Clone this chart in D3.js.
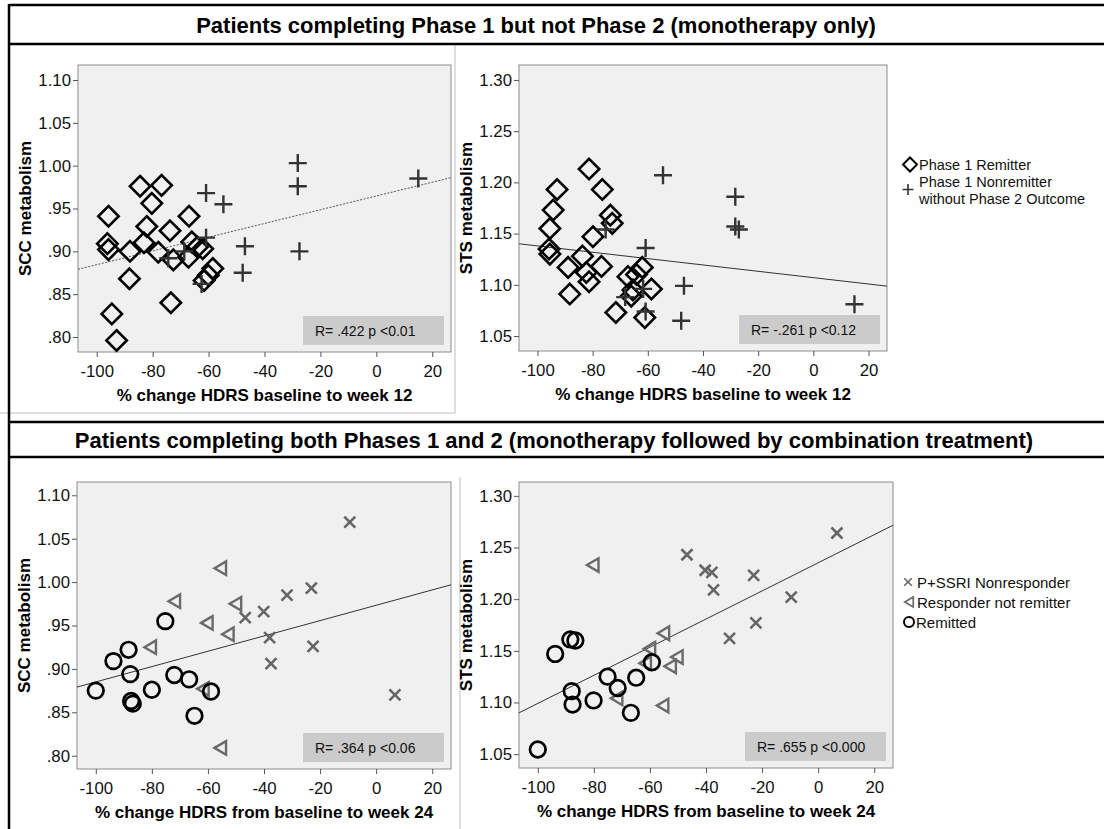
<!DOCTYPE html>
<html>
<head>
<meta charset="utf-8">
<script src="https://cdn.jsdelivr.net/npm/d3@7"></script>
<style>
  body { margin: 0; background: #fff; }
  svg { display: block; }
  text { font-family: "Liberation Sans", Arial, sans-serif; }
</style>
</head>
<body>
<svg id="chart" width="1104" height="829"></svg>
<script>
// ---------- Tick values and labels ----------
const xTicks = [-100, -80, -60, -40, -20, 0, 20];
const xTickLabels = ["-100", "-80", "-60", "-40", "-20", "0", "20"];
const sccTicks = [0.80, 0.85, 0.90, 0.95, 1.00, 1.05, 1.10];
const sccTickLabels = [".80", ".85", ".90", ".95", "1.00", "1.05", "1.10"];
const stsTicks = [1.05, 1.10, 1.15, 1.20, 1.25, 1.30];
const stsTickLabels = ["1.05", "1.10", "1.15", "1.20", "1.25", "1.30"];

// ---------- Phase 1 only: SCC ----------
const p1SccRemitX = [-95.8, -84.5, -76.8, -80.3, -82.1, -73.8, -67.0, -96.2, -95.8, -88.1, -83.1, -78.0, -72.6, -67.2, -66.0, -62.1, -61.6, -58.5, -60.1, -88.3, -73.5, -94.6, -92.9, -64.0];
const p1SccRemitY = [0.941, 0.976, 0.977, 0.956, 0.929, 0.924, 0.941, 0.909, 0.902, 0.900, 0.910, 0.899, 0.890, 0.893, 0.911, 0.903, 0.866, 0.880, 0.872, 0.868, 0.840, 0.827, 0.796, 0.905];
const p1SccNonX = [-28.1, -28.1, -27.5, 15.0, -60.9, -54.7, -47.0, -47.8, -60.9, -74.4, -68.7, -62.5];
const p1SccNonY = [1.003, 0.976, 0.900, 0.985, 0.968, 0.955, 0.906, 0.875, 0.916, 0.892, 0.900, 0.862];

// ---------- Phase 1 only: STS ----------
const p1StsRemitX = [-81.3, -92.9, -76.5, -94.3, -95.5, -73.6, -72.9, -79.9, -95.8, -95.5, -83.7, -88.9, -76.8, -82.3, -81.3, -88.3, -67.2, -62.0, -58.7, -65.4, -66.0, -71.6, -61.1, -64.1];
const p1StsRemitY = [1.213, 1.193, 1.193, 1.173, 1.155, 1.168, 1.160, 1.147, 1.135, 1.130, 1.128, 1.117, 1.118, 1.112, 1.103, 1.091, 1.108, 1.117, 1.096, 1.095, 1.089, 1.073, 1.068, 1.110];
const p1StsNonX = [-54.5, -28.3, -28.3, -27.0, 14.9, -60.8, -46.9, -47.9, -75.3, -68.2, -61.7, -60.8];
const p1StsNonY = [1.207, 1.186, 1.157, 1.154, 1.081, 1.136, 1.099, 1.065, 1.154, 1.088, 1.096, 1.074];

// ---------- Phases 1 and 2: SCC ----------
const p2SccRemitX = [-100.0, -93.7, -88.3, -87.7, -87.4, -86.8, -80.0, -75.2, -72.0, -66.7, -58.9, -64.8];
const p2SccRemitY = [0.875, 0.909, 0.922, 0.894, 0.863, 0.860, 0.876, 0.955, 0.893, 0.888, 0.874, 0.846];
const p2SccRespX = [-55.6, -72.0, -50.2, -60.4, -52.9, -80.6, -61.8, -55.6];
const p2SccRespY = [1.016, 0.978, 0.975, 0.953, 0.940, 0.925, 0.877, 0.809];
const p2SccNonX = [-9.4, -23.1, -31.8, -40.1, -46.7, -38.0, -37.5, -22.5, 6.7];
const p2SccNonY = [1.069, 0.993, 0.985, 0.966, 0.959, 0.936, 0.906, 0.926, 0.870];

// ---------- Phases 1 and 2: STS ----------
const p2StsRemitX = [-100.0, -93.8, -88.4, -86.6, -87.9, -87.6, -80.1, -75.1, -71.5, -64.9, -59.3, -66.8];
const p2StsRemitY = [1.0545, 1.147, 1.161, 1.160, 1.111, 1.098, 1.102, 1.125, 1.114, 1.124, 1.139, 1.090];
const p2StsRespX = [-80.4, -55.2, -60.2, -50.4, -52.8, -61.7, -71.9, -55.5];
const p2StsRespY = [1.233, 1.167, 1.152, 1.144, 1.135, 1.138, 1.104, 1.097];
const p2StsNonX = [6.7, -46.8, -40.3, -37.9, -37.3, -23.0, -9.6, -22.2, -31.6];
const p2StsNonY = [1.264, 1.243, 1.228, 1.226, 1.209, 1.223, 1.202, 1.177, 1.162];

// ---------- Fit lines (intercept at x = 0, slope per % point) ----------
const fitIntercepts = [0.9646, 1.107, 0.9733, 1.2352];
const fitSlopes = [0.000802, -0.00031, 0.000883, 0.001361];
const statLabels = ["R= .422 p <0.01", "R= -.261  p <0.12", "R= .364 p <0.06", "R= .655 p <0.000"];

const sectionTitles = [
  "Patients completing Phase 1 but not Phase 2 (monotherapy only)",
  "Patients completing both Phases 1 and 2 (monotherapy followed by combination treatment)"
];
const legend1Labels = ["Phase 1 Remitter", "Phase 1 Nonremitter", "without Phase 2 Outcome"];
const legend2Labels = ["P+SSRI Nonresponder", "Responder not remitter", "Remitted"];

// ---------- Marker shapes (size = half-extent in px) ----------
const diamondShape = { draw(c, r) { c.moveTo(0, -r); c.lineTo(r, 0); c.lineTo(0, r); c.lineTo(-r, 0); c.closePath(); } };
const plusShape = { draw(c, r) { c.moveTo(-r, 0); c.lineTo(r, 0); c.moveTo(0, -r); c.lineTo(0, r); } };
const timesShape = { draw(c, r) { c.moveTo(-r, -r); c.lineTo(r, r); c.moveTo(-r, r); c.lineTo(r, -r); } };
const triLeftShape = { draw(c, r) { c.moveTo(-0.85 * r, 0); c.lineTo(0.85 * r, -r); c.lineTo(0.85 * r, r); c.closePath(); } };
const circleShape = { draw(c, r) { c.moveTo(r, 0); c.arc(0, 0, r, 0, 2 * Math.PI); } };

const styles = {
  diamond: { type: diamondShape, r: 10.2, stroke: "#000", width: 2.6 },
  plus: { type: plusShape, r: 9, stroke: "#333", width: 2.4 },
  times: { type: timesShape, r: 5.5, stroke: "#666", width: 2.6 },
  tri: { type: triLeftShape, r: 6.8, stroke: "#6a6a6a", width: 2.4 },
  circle: { type: circleShape, r: 7.8, stroke: "#000", width: 2.7 }
};

const svg = d3.select("#chart");

// ---------- Frame ----------
const frame = svg.append("g");
frame.append("path")
  .attr("d", "M0,413H455M455,44V413M460,477V829")
  .attr("stroke", "#bdbdbd").attr("stroke-width", 1).attr("fill", "none");
frame.append("path")
  .attr("d", "M9,5H1104M9,44H1104M9,422H1104M9,457H1104M9,4V829")
  .attr("stroke", "#000").attr("stroke-width", 2.5).attr("fill", "none");

svg.append("text").attr("x", 536).attr("y", 32.5).attr("text-anchor", "middle")
  .attr("font-size", 22).attr("font-weight", "bold").text(sectionTitles[0]);
svg.append("text").attr("x", 554).attr("y", 447.5).attr("text-anchor", "middle")
  .attr("font-size", 22).attr("font-weight", "bold").text(sectionTitles[1]);

// ---------- Panels ----------
const panels = [
  { box: [78, 65, 451, 352], ydom: [0.7825, 1.1175], yt: sccTicks, ytl: sccTickLabels, ytitle: "SCC metabolism",
    xtitle: "% change HDRS baseline to week 12", dashed: true,
    series: [[p1SccRemitX, p1SccRemitY, "diamond"], [p1SccNonX, p1SccNonY, "plus"]] },
  { box: [519, 65, 887, 351], ydom: [1.0354, 1.3146], yt: stsTicks, ytl: stsTickLabels, ytitle: "STS metabolism",
    xtitle: "% change HDRS baseline to week 12", dashed: false,
    series: [[p1StsRemitX, p1StsRemitY, "diamond"], [p1StsNonX, p1StsNonY, "plus"]] },
  { box: [77, 482, 451, 769], ydom: [0.7847, 1.1153], yt: sccTicks, ytl: sccTickLabels, ytitle: "SCC metabolism",
    xtitle: "% change HDRS from baseline to week 24", dashed: false,
    series: [[p2SccRespX, p2SccRespY, "tri"], [p2SccNonX, p2SccNonY, "times"], [p2SccRemitX, p2SccRemitY, "circle"]] },
  { box: [519, 482, 893, 768], ydom: [1.0366, 1.3134], yt: stsTicks, ytl: stsTickLabels, ytitle: "STS metabolism",
    xtitle: "% change HDRS from baseline to week 24", dashed: false,
    series: [[p2StsRespX, p2StsRespY, "tri"], [p2StsNonX, p2StsNonY, "times"], [p2StsRemitX, p2StsRemitY, "circle"]] }
];

panels.forEach((p, i) => {
  const [x0, y0, x1, y1] = p.box;
  const x = d3.scaleLinear().domain([-106.7, 26.7]).range([x0, x1]);
  const y = d3.scaleLinear().domain(p.ydom).range([y1, y0]);
  const g = svg.append("g");
  const clipId = "clip" + i;
  svg.append("clipPath").attr("id", clipId).append("rect")
    .attr("x", x0).attr("y", y0).attr("width", x1 - x0).attr("height", y1 - y0);

  g.append("rect").attr("x", x0).attr("y", y0).attr("width", x1 - x0).attr("height", y1 - y0)
    .attr("fill", "#f0f0f0").attr("stroke", "#8c8c8c").attr("stroke-width", 1);

  // axes
  const xa = g.append("g").attr("transform", `translate(0,${y1})`)
    .call(d3.axisBottom(x).tickValues(xTicks).tickSize(5).tickPadding(8)
      .tickFormat((d, k) => xTickLabels[k]));
  const ya = g.append("g").attr("transform", `translate(${x0},0)`)
    .call(d3.axisLeft(y).tickValues(p.yt).tickSize(5).tickPadding(2)
      .tickFormat((d, k) => p.ytl[k]));
  [xa, ya].forEach(a => {
    a.select(".domain").remove();
    a.selectAll("line").attr("stroke", "#555");
    a.selectAll("text").attr("font-size", 16.8).attr("fill", "#111")
      .attr("font-family", '"Liberation Sans", Arial, sans-serif');
  });

  // axis titles
  g.append("text").attr("x", (x0 + x1) / 2).attr("y", y1 + 49).attr("text-anchor", "middle")
    .attr("font-size", 17).attr("font-weight", "bold").text(p.xtitle);
  g.append("text").attr("transform", `translate(${x0 - 47},${(y0 + y1) / 2}) rotate(-90)`)
    .attr("text-anchor", "middle").attr("font-size", 17).attr("font-weight", "bold").text(p.ytitle);

  // stats box
  g.append("rect").attr("x", x1 - 148).attr("y", y1 - 36).attr("width", 141).attr("height", 29)
    .attr("fill", "#cbcbcb");
  g.append("text").attr("x", x1 - 136).attr("y", y1 - 16.5).attr("font-size", 14).attr("fill", "#111")
    .text(statLabels[i]);

  // fit line
  const fx = x.domain();
  g.append("path").attr("clip-path", `url(#${clipId})`)
    .attr("d", d3.line().x(d => x(d)).y(d => y(fitIntercepts[i] + fitSlopes[i] * d))(fx))
    .attr("fill", "none")
    .attr("stroke", p.dashed ? "#555" : "#333")
    .attr("stroke-width", 1)
    .attr("stroke-dasharray", p.dashed ? "2,1.5" : null);

  // markers
  p.series.forEach(([xs, ys, kind]) => {
    const st = styles[kind];
    g.append("g").selectAll("path").data(xs.map((v, k) => [v, ys[k]])).join("path")
      .attr("transform", d => `translate(${x(d[0])},${y(d[1])})`)
      .attr("d", d3.symbol().type(st.type).size(st.r)())
      .attr("fill", "none").attr("stroke", st.stroke).attr("stroke-width", st.width)
      .attr("stroke-linejoin", "miter");
  });
});

// ---------- Legends ----------
function legendItem(cx, cy, kind, r, w) {
  const st = styles[kind];
  svg.append("path").attr("transform", `translate(${cx},${cy})`)
    .attr("d", d3.symbol().type(st.type).size(r)())
    .attr("fill", "none").attr("stroke", st.stroke).attr("stroke-width", w);
}
legendItem(910, 164.5, "diamond", 7, 2);
legendItem(908, 189.5, "plus", 5.5, 1.6);
legendItem(908, 582, "times", 3.8, 1.6);
legendItem(909, 602, "tri", 5, 1.7);
legendItem(909, 622, "circle", 5, 2);

const lt = svg.append("g").attr("font-size", 15).attr("fill", "#111");
lt.append("text").attr("x", 919).attr("y", 169.5).attr("font-size", 14.5).text(legend1Labels[0]);
lt.append("text").attr("x", 919).attr("y", 186.5).attr("font-size", 14.5).text(legend1Labels[1]);
lt.append("text").attr("x", 919).attr("y", 203.5).attr("font-size", 14.5).text(legend1Labels[2]);
lt.append("text").attr("x", 917).attr("y", 587.5).text(legend2Labels[0]);
lt.append("text").attr("x", 917).attr("y", 607.5).text(legend2Labels[1]);
lt.append("text").attr("x", 916).attr("y", 627.5).text(legend2Labels[2]);
</script>
</body>
</html>
